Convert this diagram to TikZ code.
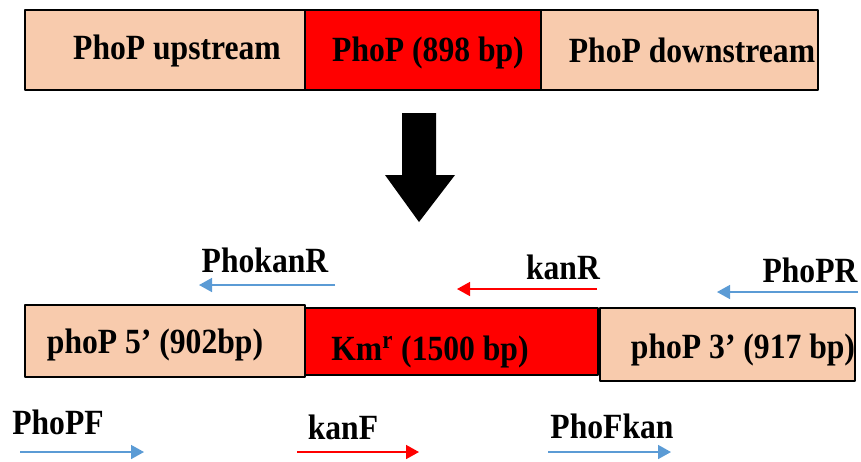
\documentclass[tikz,border=0pt]{standalone}
\usepackage{fontspec}
\setmainfont{Liberation Serif}
\usetikzlibrary{arrows.meta}
\definecolor{peach}{RGB}{248,203,173}
\definecolor{primblue}{RGB}{91,155,213}
\tikzset{
	seg/.style={draw=black,line width=1.1pt,inner sep=0pt,fill=peach},
	gene/.style={seg,fill=red},
	txt/.style={font=\fontsize{18}{20}\selectfont\bfseries,inner sep=0pt,yscale=1.12},
	primer/.style={line width=0.9pt,-{Triangle[length=0.26cm,width=0.28cm]}},
}
\begin{document}
\begin{tikzpicture}[x=0.02cm,y=-0.02cm,line join=round]
	\useasboundingbox (0,0) rectangle (861,461);
	% wild type locus
	\node[seg,minimum width=5.6cm,minimum height=1.6cm] (up) at (165,50) {};
	\node[gene,minimum width=4.72cm,minimum height=1.6cm] (phop) at (423,50) {};
	\node[seg,minimum width=5.54cm,minimum height=1.6cm] (down) at (679.5,50) {};
	\node[txt] (uptxt) at (177,51) {PhoP upstream};
	\node[txt] (phoptxt) at (428,53) {PhoP (898 bp)};
	\node[txt] (downtxt) at (692,50) {PhoP downstream};
	% big arrow
	\fill (402,113)--(436,113)--(436,175)--(455,175)--(419,222)--(385,175)--(402,175)--cycle;
	% mutant locus
	\node[seg,minimum width=5.6cm,minimum height=1.44cm] (five) at (165,341) {};
	\node[gene,minimum width=5.86cm,minimum height=1.34cm] (km) at (451.5,341.5) {};
	\node[seg,minimum width=5.1cm,minimum height=1.46cm] (three) at (727.5,344.5) {};
	\node[txt] (fivetxt) at (155,345) {phoP 5’ (902bp)};
	\node[txt] (kmtxt) at (430,352) {Km\textsuperscript{\fontsize{13}{14}\selectfont r} (1500 bp)};
	\node[txt] (threetxt) at (743,350) {phoP 3’ (917 bp)};
	% primers
	\coordinate (pkr1) at (335,285); \coordinate (pkr2) at (199,285);
	\coordinate (kr1) at (597,289); \coordinate (kr2) at (457,289);
	\coordinate (ppr1) at (858,292); \coordinate (ppr2) at (717,292);
	\coordinate (ppf1) at (20,452); \coordinate (ppf2) at (144,452);
	\coordinate (kf1) at (297,452); \coordinate (kf2) at (419,452);
	\coordinate (pfk1) at (548,452); \coordinate (pfk2) at (671,452);
	\draw[primer,primblue] (pkr1)--(pkr2);
	\draw[primer,red] (kr1)--(kr2);
	\draw[primer,primblue] (ppr1)--(ppr2);
	\draw[primer,primblue] (ppf1)--(ppf2);
	\draw[primer,red] (kf1)--(kf2);
	\draw[primer,primblue] (pfk1)--(pfk2);
	\node[txt] (pkrtxt) at (265,260) {PhokanR};
	\node[txt] (krtxt) at (563,267) {kanR};
	\node[txt] (pprtxt) at (810,270) {PhoPR};
	\node[txt] (ppftxt) at (58,422) {PhoPF};
	\node[txt] (kftxt) at (343,427) {kanF};
	\node[txt] (pfktxt) at (612,426) {PhoFkan};
\end{tikzpicture}
\end{document}
